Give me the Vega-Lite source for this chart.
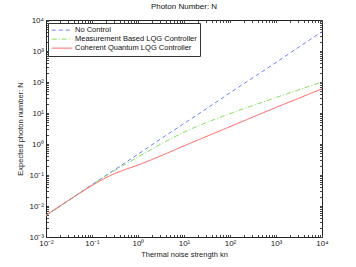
{
  "$schema": "https://vega.github.io/schema/vega-lite/v6.json",
  "width": 276,
  "height": 217,
  "autosize": {"type": "none"},
  "padding": {"left": 46, "top": 20, "right": 34, "bottom": 30},
  "background": "white",
  "title": {"text": "Photon Number: N", "fontSize": 8, "fontWeight": "normal", "font": "Liberation Sans", "color": "#111", "offset": 5},
  "config": {
    "view": {"stroke": "#222", "strokeWidth": 1},
    "axis": {"font": "Liberation Sans", "labelFont": "Liberation Sans", "titleFont": "Liberation Sans", "labelFontSize": 8, "titleFontSize": 7.5, "titleFontWeight": "normal", "labelColor": "#222", "titleColor": "#222", "domainColor": "#222", "tickColor": "#444", "grid": false, "tickSize": -2.5, "labelPadding": 5, "labelFlush": false, "labelOverlap": false}
  },
  "data": {"values": [
    {"kn": 0.01, "N": 0.00501, "series": "No Control"},
    {"kn": 0.0316, "N": 0.0155, "series": "No Control"},
    {"kn": 0.1, "N": 0.049, "series": "No Control"},
    {"kn": 0.316, "N": 0.151, "series": "No Control"},
    {"kn": 1, "N": 0.468, "series": "No Control"},
    {"kn": 3.16, "N": 1.48, "series": "No Control"},
    {"kn": 10, "N": 4.57, "series": "No Control"},
    {"kn": 31.6, "N": 14.1, "series": "No Control"},
    {"kn": 100, "N": 44.7, "series": "No Control"},
    {"kn": 316, "N": 138, "series": "No Control"},
    {"kn": 1000, "N": 427, "series": "No Control"},
    {"kn": 3162, "N": 1349, "series": "No Control"},
    {"kn": 10000, "N": 4169, "series": "No Control"},
    {"kn": 0.01, "N": 0.0050, "series": "Measurement Based LQG Controller"},
    {"kn": 0.0316, "N": 0.0155, "series": "Measurement Based LQG Controller"},
    {"kn": 0.1, "N": 0.0479, "series": "Measurement Based LQG Controller"},
    {"kn": 0.316, "N": 0.141, "series": "Measurement Based LQG Controller"},
    {"kn": 1, "N": 0.38, "series": "Measurement Based LQG Controller"},
    {"kn": 3.16, "N": 1.0, "series": "Measurement Based LQG Controller"},
    {"kn": 10, "N": 2.4, "series": "Measurement Based LQG Controller"},
    {"kn": 31.6, "N": 5.01, "series": "Measurement Based LQG Controller"},
    {"kn": 100, "N": 9.55, "series": "Measurement Based LQG Controller"},
    {"kn": 316, "N": 17.4, "series": "Measurement Based LQG Controller"},
    {"kn": 1000, "N": 31.6, "series": "Measurement Based LQG Controller"},
    {"kn": 3162, "N": 56.2, "series": "Measurement Based LQG Controller"},
    {"kn": 10000, "N": 100, "series": "Measurement Based LQG Controller"},
    {"kn": 0.01, "N": 0.0050, "series": "Coherent Quantum LQG Controller"},
    {"kn": 0.0316, "N": 0.0155, "series": "Coherent Quantum LQG Controller"},
    {"kn": 0.1, "N": 0.0457, "series": "Coherent Quantum LQG Controller"},
    {"kn": 0.178, "N": 0.0741, "series": "Coherent Quantum LQG Controller"},
    {"kn": 0.316, "N": 0.112, "series": "Coherent Quantum LQG Controller"},
    {"kn": 0.562, "N": 0.155, "series": "Coherent Quantum LQG Controller"},
    {"kn": 1, "N": 0.209, "series": "Coherent Quantum LQG Controller"},
    {"kn": 3.16, "N": 0.417, "series": "Coherent Quantum LQG Controller"},
    {"kn": 10, "N": 0.87, "series": "Coherent Quantum LQG Controller"},
    {"kn": 31.6, "N": 1.78, "series": "Coherent Quantum LQG Controller"},
    {"kn": 100, "N": 3.63, "series": "Coherent Quantum LQG Controller"},
    {"kn": 316, "N": 7.41, "series": "Coherent Quantum LQG Controller"},
    {"kn": 1000, "N": 15.1, "series": "Coherent Quantum LQG Controller"},
    {"kn": 3162, "N": 30.2, "series": "Coherent Quantum LQG Controller"},
    {"kn": 10000, "N": 60.3, "series": "Coherent Quantum LQG Controller"}
  ]},
  "layer": [
    {
      "mark": {"type": "line", "strokeWidth": 1, "interpolate": "monotone", "clip": true},
      "encoding": {
        "x": {"field": "kn", "type": "quantitative", "title": "Thermal noise strength kn",
          "scale": {"type": "log", "domain": [0.01, 10000], "nice": false},
          "axis": {"orient": "bottom", "titlePadding": 3,
            "values": [0.01,0.02,0.03,0.04,0.05,0.06,0.07,0.08,0.09,0.1,0.2,0.3,0.4,0.5,0.6,0.7,0.8,0.9,1,2,3,4,5,6,7,8,9,10,20,30,40,50,60,70,80,90,100,200,300,400,500,600,700,800,900,1000,2000,3000,4000,5000,6000,7000,8000,9000,10000],
            "labelExpr": "abs(log(datum.value)/LN10 - round(log(datum.value)/LN10)) > 0.01 ? '' : '10' + replace(replace(replace(replace(replace(replace(''+round(log(datum.value)/LN10),'-','⁻'),'0','⁰'),'1','¹'),'2','²'),'3','³'),'4','⁴')"}},
        "y": {"field": "N", "type": "quantitative", "title": "Expected photon number: N",
          "scale": {"type": "log", "domain": [0.001, 10000], "nice": false},
          "axis": {"orient": "left", "titlePadding": 4,
            "values": [0.001,0.002,0.003,0.004,0.005,0.006,0.007,0.008,0.009,0.01,0.02,0.03,0.04,0.05,0.06,0.07,0.08,0.09,0.1,0.2,0.3,0.4,0.5,0.6,0.7,0.8,0.9,1,2,3,4,5,6,7,8,9,10,20,30,40,50,60,70,80,90,100,200,300,400,500,600,700,800,900,1000,2000,3000,4000,5000,6000,7000,8000,9000,10000],
            "labelExpr": "abs(log(datum.value)/LN10 - round(log(datum.value)/LN10)) > 0.01 ? '' : '10' + replace(replace(replace(replace(replace(replace(''+round(log(datum.value)/LN10),'-','⁻'),'0','⁰'),'1','¹'),'2','²'),'3','³'),'4','⁴')"}},
        "color": {"field": "series", "type": "nominal",
          "scale": {"domain": ["No Control", "Measurement Based LQG Controller", "Coherent Quantum LQG Controller"], "range": ["#6f80ff", "#86e060", "#ff5c5c"]},
          "legend": {"title": null, "orient": "none", "legendX": 2, "legendY": 3, "symbolType": "stroke", "symbolSize": 420, "symbolStrokeWidth": 1, "labelFont": "Liberation Sans", "labelFontSize": 7.5, "labelColor": "#111", "strokeColor": "#333", "fillColor": "white", "padding": 3, "rowPadding": 0, "clipHeight": 8.3, "labelOffset": 2}},
        "strokeDash": {"field": "series", "type": "nominal",
          "scale": {"domain": ["No Control", "Measurement Based LQG Controller", "Coherent Quantum LQG Controller"], "range": [[4, 3], [5, 2, 1, 2], [1, 0]]},
          "legend": {"title": null, "orient": "none", "legendX": 2, "legendY": 3, "symbolType": "stroke", "symbolSize": 420, "symbolStrokeWidth": 1, "labelFont": "Liberation Sans", "labelFontSize": 7.5, "labelColor": "#111", "strokeColor": "#333", "fillColor": "white", "padding": 3, "rowPadding": 0, "clipHeight": 8.3, "labelOffset": 2}}
      }
    },
    {
      "mark": {"type": "point", "opacity": 0},
      "encoding": {
        "x": {"field": "kn", "type": "quantitative",
          "axis": {"orient": "top", "title": null, "labels": false, "domain": false,
            "values": [0.01,0.02,0.03,0.04,0.05,0.06,0.07,0.08,0.09,0.1,0.2,0.3,0.4,0.5,0.6,0.7,0.8,0.9,1,2,3,4,5,6,7,8,9,10,20,30,40,50,60,70,80,90,100,200,300,400,500,600,700,800,900,1000,2000,3000,4000,5000,6000,7000,8000,9000,10000]}},
        "y": {"field": "N", "type": "quantitative",
          "axis": {"orient": "right", "title": null, "labels": false, "domain": false,
            "values": [0.001,0.002,0.003,0.004,0.005,0.006,0.007,0.008,0.009,0.01,0.02,0.03,0.04,0.05,0.06,0.07,0.08,0.09,0.1,0.2,0.3,0.4,0.5,0.6,0.7,0.8,0.9,1,2,3,4,5,6,7,8,9,10,20,30,40,50,60,70,80,90,100,200,300,400,500,600,700,800,900,1000,2000,3000,4000,5000,6000,7000,8000,9000,10000]}}
      }
    }
  ],
  "resolve": {"axis": {"x": "independent", "y": "independent"}}
}
